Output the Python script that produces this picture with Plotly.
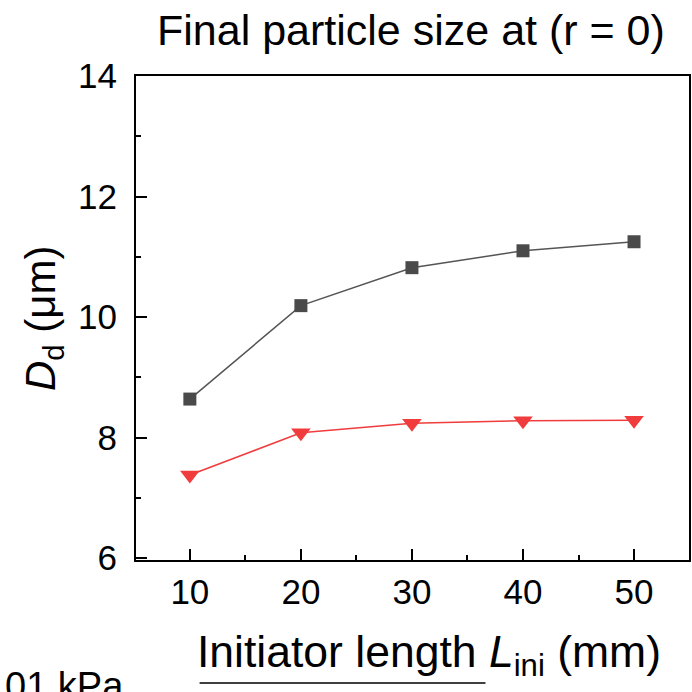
import plotly.graph_objects as go

L_ini = [10, 20, 30, 40, 50]
D_black = [8.64, 10.19, 10.82, 11.10, 11.25]
D_red = [7.38, 8.08, 8.24, 8.28, 8.29]

FONT = "Liberation Sans, Arial, sans-serif"

fig = go.Figure()
fig.add_trace(go.Scatter(
    x=L_ini, y=D_black, mode="lines+markers",
    line=dict(color="#555555", width=1.5),
    marker=dict(symbol="square", size=13, color="#4a4a4a"),
    showlegend=False))
fig.add_trace(go.Scatter(
    x=L_ini, y=D_red, mode="lines+markers",
    line=dict(color="#f03c3c", width=1.5),
    marker=dict(symbol="triangle-down", size=17, color="#f03c3c"),
    showlegend=False))

axis_common = dict(
    showline=True, linecolor="black", linewidth=2, mirror=True,
    ticks="inside", ticklen=11, tickwidth=2, tickcolor="black",
    showgrid=False, zeroline=False,
    tickfont=dict(family=FONT, size=35, color="black"),
)
fig.update_xaxes(range=[5.15, 54.95], tickvals=[10, 20, 30, 40, 50],
                 minor=dict(ticks="inside", ticklen=5, tickwidth=2, tickcolor="black",
                            tickvals=[15, 25, 35, 45]),
                 **axis_common)
fig.update_yaxes(range=[5.97, 14.0], tickvals=[6, 8, 10, 12, 14],
                 minor=dict(ticks="inside", ticklen=5, tickwidth=2, tickcolor="black",
                            tickvals=[7, 9, 11, 13]),
                 ticklabelstandoff=10,
                 **axis_common)

fig.update_layout(
    width=692, height=692,
    margin=dict(l=136, r=1, t=76, b=132),
    plot_bgcolor="white", paper_bgcolor="white",
    font=dict(family=FONT, color="black"),
    annotations=[
        dict(text="Final particle size at (r = 0)", x=0.497, y=1.095,
             xanchor="center", yanchor="middle",
             xref="paper", yref="paper", showarrow=False,
             font=dict(size=43, family=FONT)),
        dict(text="Initiator length <i>L</i><sub>ini</sub> (mm)", x=0.53, y=-0.196,
             xanchor="center", yanchor="middle",
             xref="paper", yref="paper", showarrow=False,
             font=dict(size=44.5, family=FONT)),
        dict(text="<i>D</i><sub>d</sub> (μm)", x=-0.168, y=0.5, textangle=-90,
             xanchor="center", yanchor="middle",
             xref="paper", yref="paper", showarrow=False,
             font=dict(size=42, family=FONT)),
        dict(text="01 kPa", x=-0.240, y=-0.213, xanchor="left", yanchor="top",
             xref="paper", yref="paper", showarrow=False,
             font=dict(size=38, family=FONT)),
    ],
    shapes=[dict(type="line", xref="paper", yref="paper",
                 x0=0.115, x1=0.632, y0=-0.254, y1=-0.254,
                 line=dict(color="black", width=1.5))],
)

fig.write_html("out.html",
               config={"displayModeBar": False},
               post_script="document.body.style.margin='0px';"
                           "document.body.style.overflow='hidden';")
